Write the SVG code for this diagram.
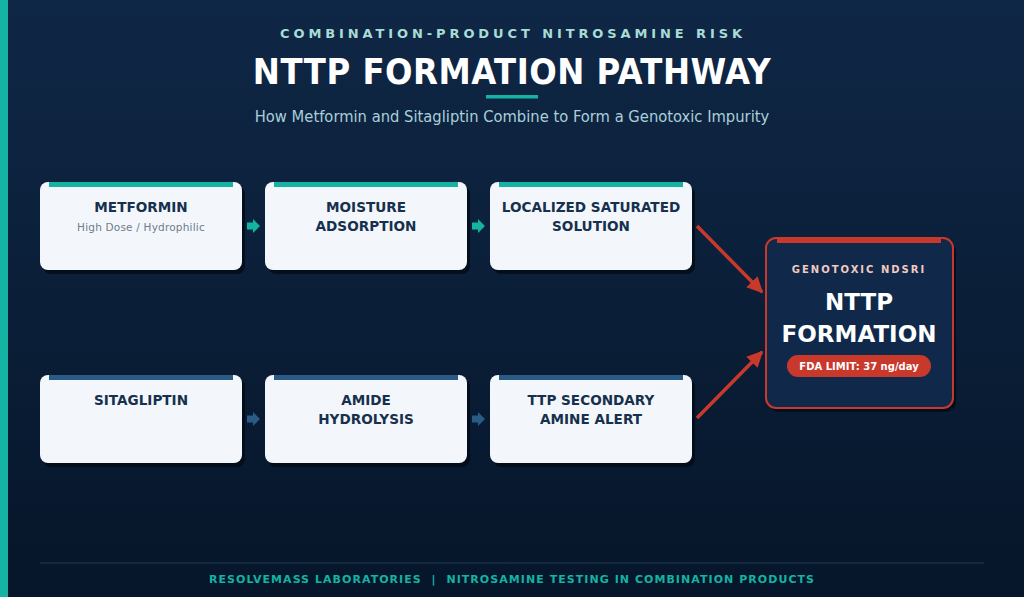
<svg xmlns="http://www.w3.org/2000/svg" width="1024" height="597" viewBox="0 0 1024 597">
<defs>
<linearGradient id="bg" x1="0" y1="0" x2="0" y2="1">
<stop offset="0" stop-color="#0f2746"/>
<stop offset="1" stop-color="#06162a"/>
</linearGradient>
<path id="sa" d="M0,-3.5 L6,-3.5 L6,-7 L13,0 L6,7 L6,3.5 L0,3.5 Z"/>
<marker id="ra" viewBox="0 0 10 10" refX="9" refY="5" markerWidth="16" markerHeight="16" orient="auto" markerUnits="userSpaceOnUse"><path d="M0,0 L10,5 L0,10 Z" fill="#c9392b"/></marker>
</defs>
<style>
.box{fill:#f3f7fb;}
.sh{fill:#030b16;opacity:0.8;}
.t{font-family:"DejaVu Sans",sans-serif;font-weight:bold;font-size:13.6px;fill:#16304d;text-anchor:middle;}
.s{font-family:"DejaVu Sans",sans-serif;font-size:10.5px;letter-spacing:0.2px;fill:#6f7c8c;text-anchor:middle;}
.tb{fill:#14b3a3;}
.bb{fill:#2a5a86;}
</style>
<rect width="1024" height="597" fill="url(#bg)"/>
<rect x="0" y="0" width="8" height="597" fill="#14b3a3"/>
<g id="header">
<text x="513" y="38" font-family="DejaVu Sans,sans-serif" font-weight="bold" font-size="13" letter-spacing="3.9" fill="#a8dcd6" text-anchor="middle">COMBINATION-PRODUCT NITROSAMINE RISK</text>
<text x="512" y="84" font-family="DejaVu Sans Condensed,DejaVu Sans,sans-serif" font-weight="bold" font-size="36" letter-spacing="0.5" fill="#ffffff" text-anchor="middle">NTTP FORMATION PATHWAY</text>
<rect x="486" y="95" width="52" height="3.5" fill="#14b3a3"/>
<text x="512" y="122" font-family="DejaVu Sans Condensed,DejaVu Sans,sans-serif" font-size="16.4" fill="#a9cfd9" text-anchor="middle">How Metformin and Sitagliptin Combine to Form a Genotoxic Impurity</text>
</g>
<g id="connectors">
<use href="#sa" x="247" y="226" fill="#14b3a3"/>
<use href="#sa" x="472" y="226" fill="#14b3a3"/>
<use href="#sa" x="247" y="419" fill="#2a5a86"/>
<use href="#sa" x="472" y="419" fill="#2a5a86"/>
<path d="M697,226 L762,292" stroke="#c9392b" stroke-width="3.5" marker-end="url(#ra)"/>
<path d="M697,418 L762,352" stroke="#c9392b" stroke-width="3.5" marker-end="url(#ra)"/>
</g>
<g id="metformin">
<rect class="sh" x="43" y="186" width="202" height="88" rx="8"/>
<rect class="box" x="40" y="182" width="202" height="88" rx="8"/>
<rect class="tb" x="49" y="182" width="184" height="5"/>
<text class="t" x="141" y="212">METFORMIN</text>
<text class="s" x="141" y="231">High Dose / Hydrophilic</text>
</g>
<g id="moisture">
<rect class="sh" x="268" y="186" width="202" height="88" rx="8"/>
<rect class="box" x="265" y="182" width="202" height="88" rx="8"/>
<rect class="tb" x="274" y="182" width="184" height="5"/>
<text class="t" x="366" y="212">MOISTURE</text>
<text class="t" x="366" y="231">ADSORPTION</text>
</g>
<g id="saturated">
<rect class="sh" x="493" y="186" width="202" height="88" rx="8"/>
<rect class="box" x="490" y="182" width="202" height="88" rx="8"/>
<rect class="tb" x="499" y="182" width="184" height="5"/>
<text class="t" x="591" y="212">LOCALIZED SATURATED</text>
<text class="t" x="591" y="231">SOLUTION</text>
</g>
<g id="sitagliptin">
<rect class="sh" x="43" y="379" width="202" height="88" rx="8"/>
<rect class="box" x="40" y="375" width="202" height="88" rx="8"/>
<rect class="bb" x="49" y="375" width="184" height="5"/>
<text class="t" x="141" y="405">SITAGLIPTIN</text>
</g>
<g id="hydrolysis">
<rect class="sh" x="268" y="379" width="202" height="88" rx="8"/>
<rect class="box" x="265" y="375" width="202" height="88" rx="8"/>
<rect class="bb" x="274" y="375" width="184" height="5"/>
<text class="t" x="366" y="405">AMIDE</text>
<text class="t" x="366" y="424">HYDROLYSIS</text>
</g>
<g id="ttp">
<rect class="sh" x="493" y="379" width="202" height="88" rx="8"/>
<rect class="box" x="490" y="375" width="202" height="88" rx="8"/>
<rect class="bb" x="499" y="375" width="184" height="5"/>
<text class="t" x="591" y="405">TTP SECONDARY</text>
<text class="t" x="591" y="424">AMINE ALERT</text>
</g>
<g id="nttp">
<rect x="769" y="242" width="187" height="170" rx="10" fill="#030b16" opacity="0.8"/>
<rect x="766" y="238" width="187" height="170" rx="10" fill="#10294a" stroke="#c9392b" stroke-width="2"/>
<rect x="777" y="238" width="164" height="5" fill="#c9392b"/>
<text x="859" y="273" font-family="DejaVu Sans,sans-serif" font-weight="bold" font-size="10" letter-spacing="2" fill="#f1c9c2" text-anchor="middle">GENOTOXIC NDSRI</text>
<text x="859" y="310" font-family="DejaVu Sans,sans-serif" font-weight="bold" font-size="23" fill="#ffffff" text-anchor="middle">NTTP</text>
<text x="859" y="342" font-family="DejaVu Sans,sans-serif" font-weight="bold" font-size="23" fill="#ffffff" text-anchor="middle">FORMATION</text>
<rect x="787" y="355" width="144" height="22" rx="11" fill="#c9392b"/>
<text x="859" y="370" font-family="DejaVu Sans,sans-serif" font-weight="bold" font-size="10" fill="#ffffff" text-anchor="middle">FDA LIMIT: 37 ng/day</text>
</g>
<g id="footer">
<line x1="40" y1="563" x2="984" y2="563" stroke="#1f3a57" stroke-width="1"/>
<text x="512" y="583" font-family="DejaVu Sans,sans-serif" font-weight="bold" font-size="11" letter-spacing="1.05" fill="#14b3a3" text-anchor="middle" xml:space="preserve">RESOLVEMASS LABORATORIES  |  NITROSAMINE TESTING IN COMBINATION PRODUCTS</text>
</g>
</svg>
